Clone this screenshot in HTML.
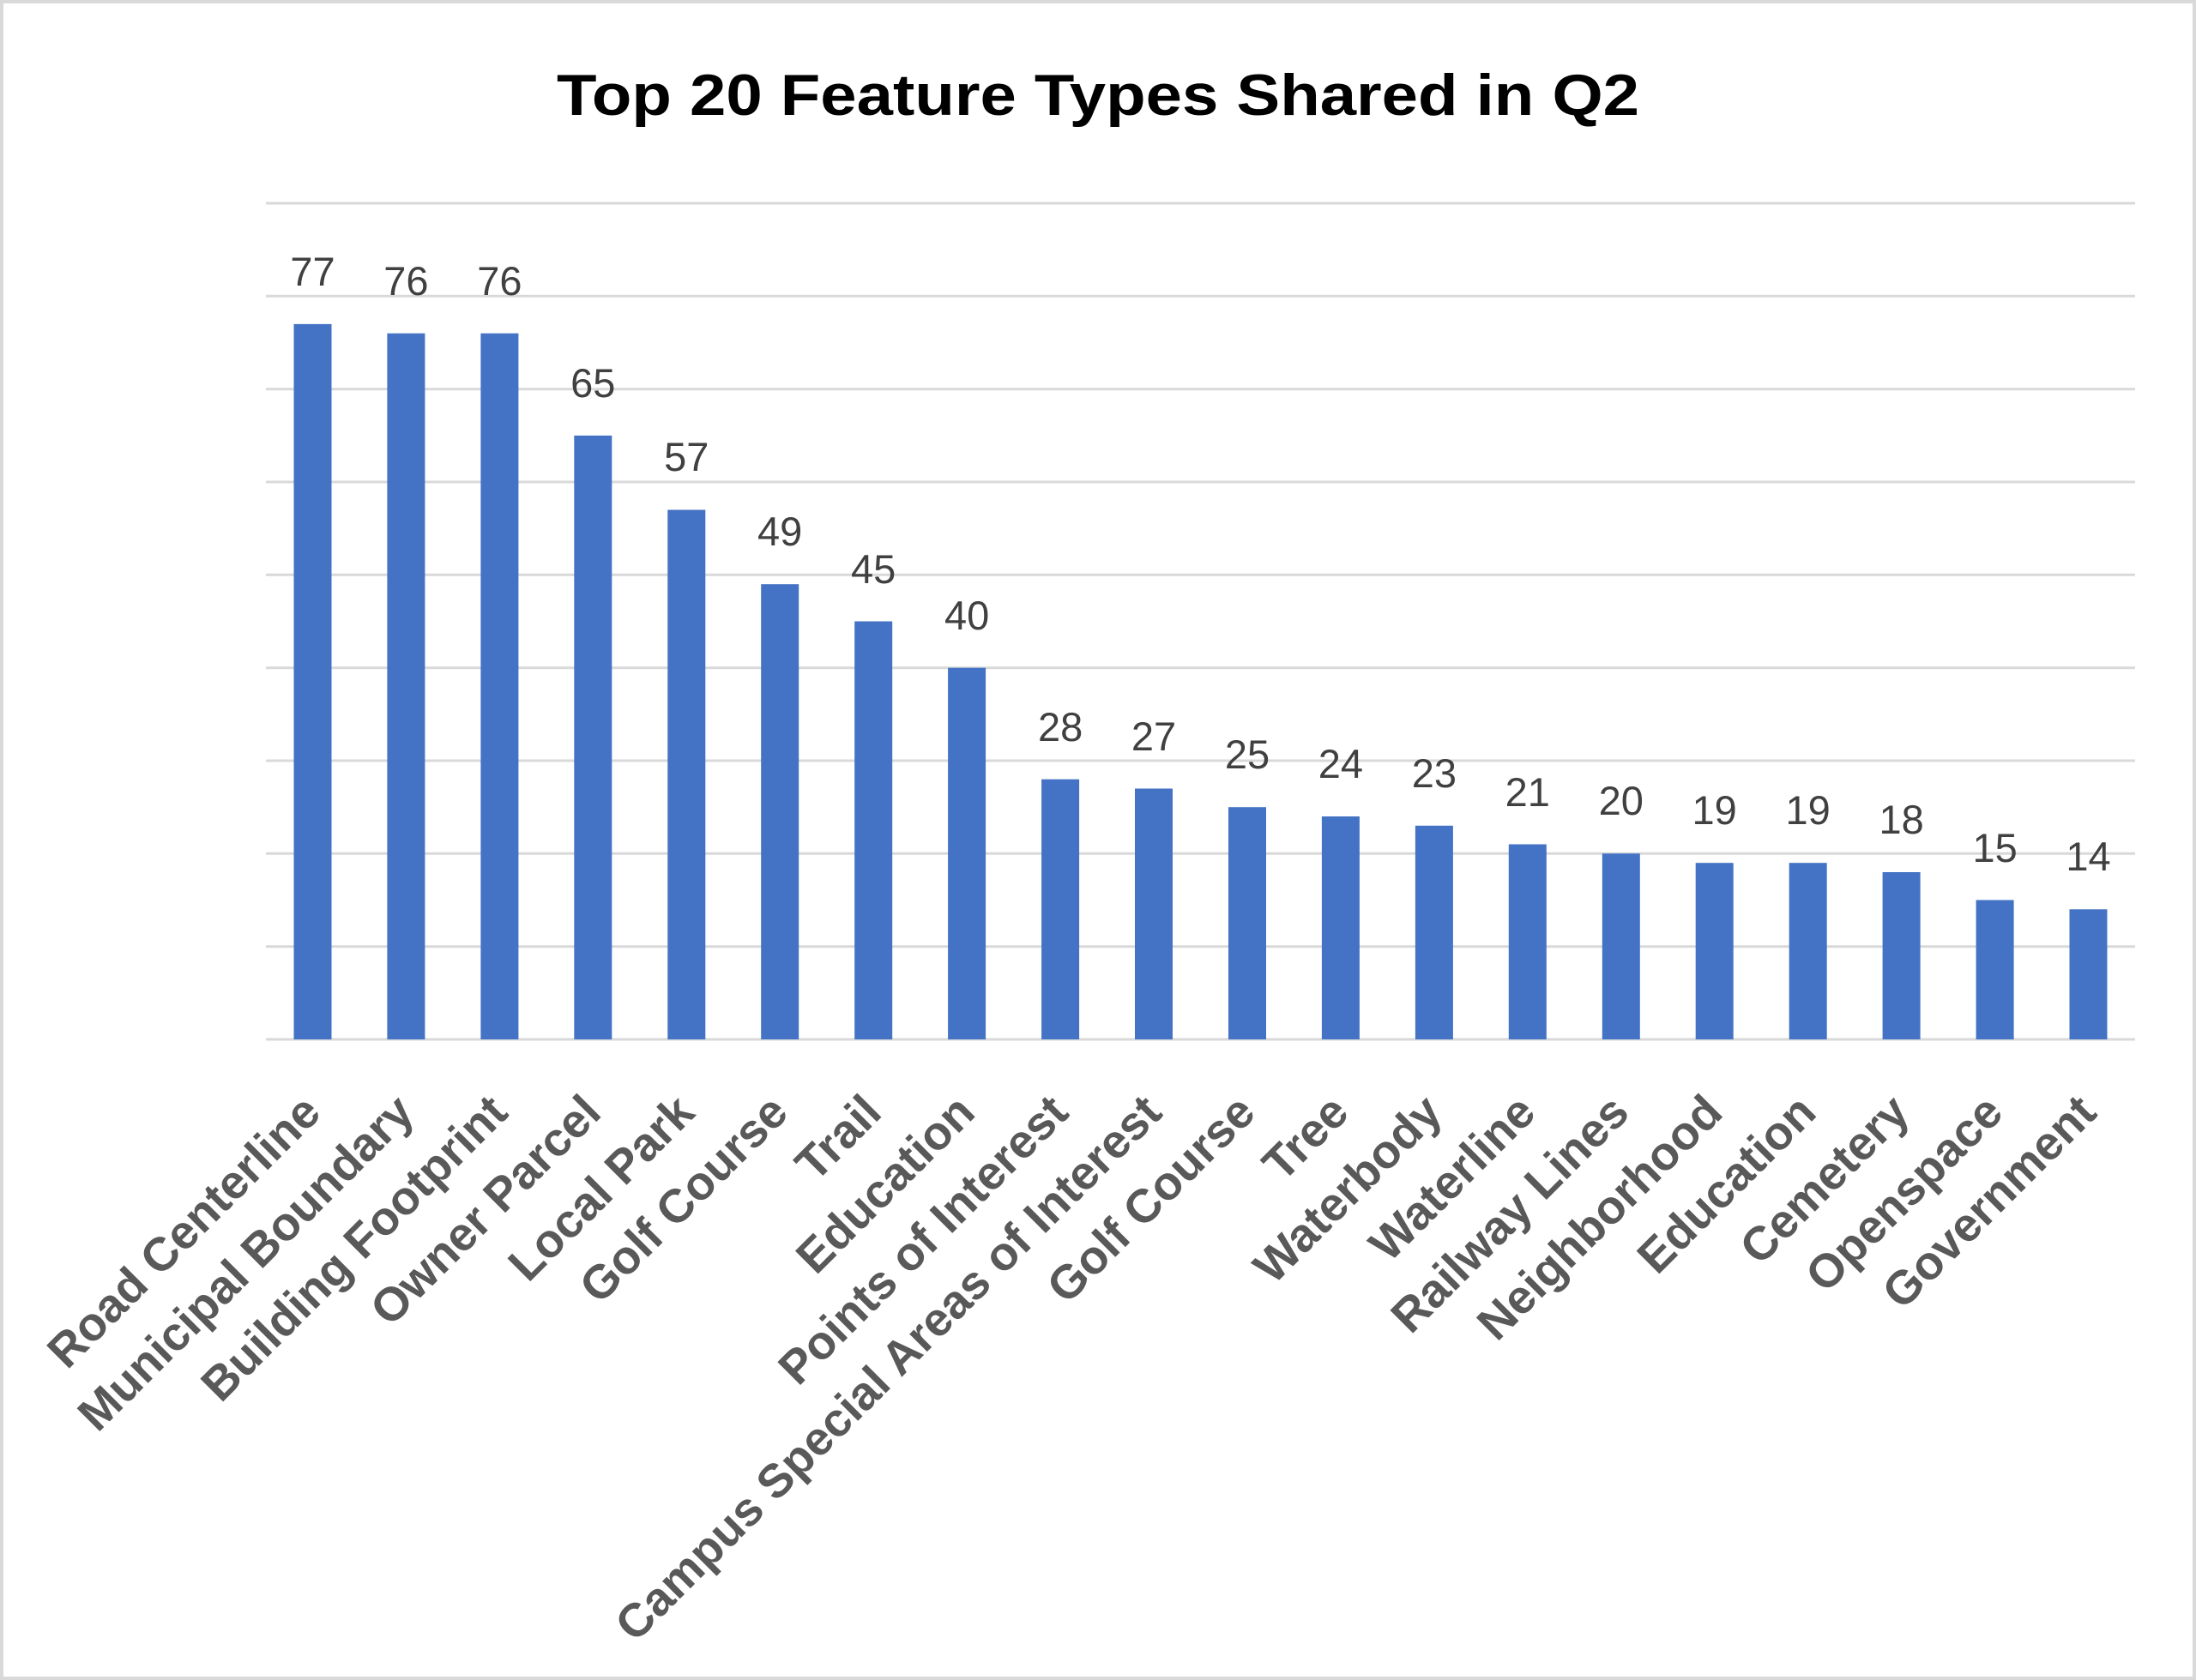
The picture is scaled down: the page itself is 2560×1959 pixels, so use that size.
<!DOCTYPE html>
<html><head><meta charset="utf-8"><style>
html,body{margin:0;padding:0;background:#fff;}
svg{display:block;}
</style></head><body>
<svg width="2560" height="1959" viewBox="0 0 2560 1959" xmlns="http://www.w3.org/2000/svg" font-family="'Liberation Sans', sans-serif">
<rect x="2" y="2" width="2556" height="1955" fill="#fff" stroke="#d9d9d9" stroke-width="4"/>
<text x="1280" y="134" text-anchor="middle" font-size="68" font-weight="bold" fill="#000" textLength="1262" lengthAdjust="spacingAndGlyphs">Top 20 Feature Types Shared in Q2</text>
<g stroke="#d9d9d9" stroke-width="3">
<line x1="310" x2="2489" y1="237" y2="237"/>
<line x1="310" x2="2489" y1="345.3" y2="345.3"/>
<line x1="310" x2="2489" y1="453.7" y2="453.7"/>
<line x1="310" x2="2489" y1="562" y2="562"/>
<line x1="310" x2="2489" y1="670.3" y2="670.3"/>
<line x1="310" x2="2489" y1="778.7" y2="778.7"/>
<line x1="310" x2="2489" y1="887" y2="887"/>
<line x1="310" x2="2489" y1="995.3" y2="995.3"/>
<line x1="310" x2="2489" y1="1103.7" y2="1103.7"/>
<line x1="310" x2="2489" y1="1212" y2="1212"/>
</g>
<g fill="#4472c4">
<rect x="342.5" y="377.9" width="44" height="834.1"/>
<rect x="451.4" y="388.7" width="44" height="823.3"/>
<rect x="560.4" y="388.7" width="44" height="823.3"/>
<rect x="669.3" y="507.9" width="44" height="704.1"/>
<rect x="778.3" y="594.5" width="44" height="617.5"/>
<rect x="887.2" y="681.2" width="44" height="530.8"/>
<rect x="996.2" y="724.5" width="44" height="487.5"/>
<rect x="1105.1" y="778.7" width="44" height="433.3"/>
<rect x="1214.1" y="908.7" width="44" height="303.3"/>
<rect x="1323.0" y="919.5" width="44" height="292.5"/>
<rect x="1432.0" y="941.2" width="44" height="270.8"/>
<rect x="1540.9" y="952.0" width="44" height="260.0"/>
<rect x="1649.9" y="962.8" width="44" height="249.2"/>
<rect x="1758.8" y="984.5" width="44" height="227.5"/>
<rect x="1867.8" y="995.3" width="44" height="216.7"/>
<rect x="1976.7" y="1006.2" width="44" height="205.8"/>
<rect x="2085.7" y="1006.2" width="44" height="205.8"/>
<rect x="2194.6" y="1017.0" width="44" height="195.0"/>
<rect x="2303.6" y="1049.5" width="44" height="162.5"/>
<rect x="2412.5" y="1060.3" width="44" height="151.7"/>
</g>
<g fill="#404040" font-size="47" text-anchor="middle">
<text x="364.5" y="333">77</text>
<text x="473.4" y="344">76</text>
<text x="582.4" y="344">76</text>
<text x="691.3" y="463">65</text>
<text x="800.3" y="549">57</text>
<text x="909.2" y="636">49</text>
<text x="1018.2" y="680">45</text>
<text x="1127.1" y="734">40</text>
<text x="1236.1" y="864">28</text>
<text x="1345.0" y="875">27</text>
<text x="1454.0" y="896">25</text>
<text x="1562.9" y="907">24</text>
<text x="1671.9" y="918">23</text>
<text x="1780.8" y="940">21</text>
<text x="1889.8" y="950">20</text>
<text x="1998.7" y="961">19</text>
<text x="2107.7" y="961">19</text>
<text x="2216.6" y="972">18</text>
<text x="2325.6" y="1005">15</text>
<text x="2434.5" y="1015">14</text>
</g>
<g fill="#595959" font-size="55" font-weight="bold" text-anchor="end">
<text transform="translate(376.5,1300) rotate(-45)">Road Centerline</text>
<text transform="translate(485.4,1300) rotate(-45)">Municipal Boundary</text>
<text transform="translate(594.4,1300) rotate(-45)">Building Footprint</text>
<text transform="translate(703.3,1300) rotate(-45)">Owner Parcel</text>
<text transform="translate(812.3,1300) rotate(-45)">Local Park</text>
<text transform="translate(921.2,1300) rotate(-45)">Golf Course</text>
<text transform="translate(1030.2,1300) rotate(-45)">Trail</text>
<text transform="translate(1139.1,1300) rotate(-45)">Education</text>
<text transform="translate(1248.1,1300) rotate(-45)">Points of Interest</text>
<text transform="translate(1357.0,1300) rotate(-45)">Campus Special Areas of Interest</text>
<text transform="translate(1466.0,1300) rotate(-45)">Golf Course</text>
<text transform="translate(1574.9,1300) rotate(-45)">Tree</text>
<text transform="translate(1683.9,1300) rotate(-45)">Waterbody</text>
<text transform="translate(1792.8,1300) rotate(-45)">Waterline</text>
<text transform="translate(1901.8,1300) rotate(-45)">Railway Lines</text>
<text transform="translate(2010.7,1300) rotate(-45)">Neighborhood</text>
<text transform="translate(2119.7,1300) rotate(-45)">Education</text>
<text transform="translate(2228.6,1300) rotate(-45)">Cemetery</text>
<text transform="translate(2337.6,1300) rotate(-45)">Openspace</text>
<text transform="translate(2446.5,1300) rotate(-45)">Government</text>
</g>
</svg>
</body></html>
